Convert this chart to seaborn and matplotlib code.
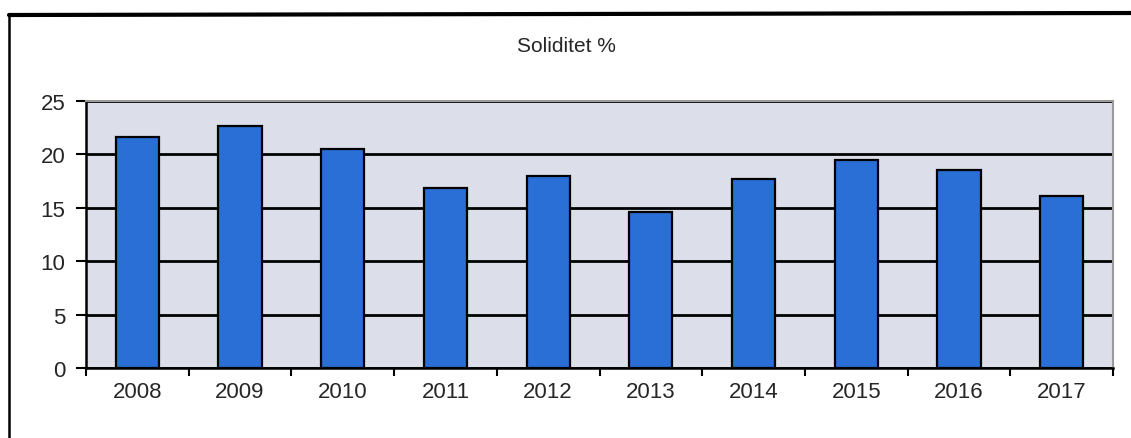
import matplotlib
matplotlib.use('Agg')
import matplotlib.pyplot as plt
import seaborn as sns
import pandas as pd
from matplotlib.lines import Line2D

# Data
years = ['2008', '2009', '2010', '2011', '2012', '2013', '2014', '2015', '2016', '2017']
soliditet = [21.6, 22.7, 20.5, 16.9, 18.0, 14.6, 17.7, 19.5, 18.5, 16.1]
y_ticks = [0, 5, 10, 15, 20, 25]

df = pd.DataFrame({'year': years, 'soliditet': soliditet})

sns.set_style('white')
plt.rcParams['font.family'] = ['Liberation Sans', 'DejaVu Sans']

fig = plt.figure(figsize=(11.31, 4.39), dpi=100)
ax = fig.add_axes([86 / 1131, 1 - 369 / 439, (1113 - 86) / 1131, (369 - 102) / 439])

sns.barplot(data=df, x='year', y='soliditet', color='#2a6fd6', saturation=1,
            edgecolor='black', linewidth=1.6, width=0.42, ax=ax)

ax.set_facecolor('#dcdee9')
ax.set_xlim(-0.5, len(years) - 0.5)
ax.set_ylim(0, 25)
ax.set_yticks(y_ticks)
ax.yaxis.grid(True, color='black', linewidth=2)
ax.set_axisbelow(True)
ax.set_xlabel('')
ax.set_ylabel('')

# category boundary ticks on the x axis
ax.set_xticks(range(len(years)))
ax.set_xticklabels(years)
ax.set_xticks([i - 0.5 for i in range(len(years) + 1)], minor=True)
ax.tick_params(axis='x', which='major', length=0, pad=9, labelsize=16)
ax.tick_params(axis='x', which='minor', length=6, width=1.5, color='black', direction='out')
ax.tick_params(axis='y', length=7, width=1.5, color='black', direction='out', pad=8, labelsize=16)
ax.tick_params(axis='both', bottom=True, left=True, which='both')

for side in ['left', 'bottom']:
    ax.spines[side].set_color('black')
    ax.spines[side].set_linewidth(1.8)
for side in ['top', 'right']:
    ax.spines[side].set_visible(True)
    ax.spines[side].set_color('#9a9a9a')
    ax.spines[side].set_linewidth(1.5)

fig.text(566 / 1131, 1 - 46 / 439, 'Soliditet %', ha='center', va='center', fontsize=15)

# outer frame of the scanned chart
fig.add_artist(Line2D([9 / 1131, 1.0], [1 - 16 / 439, 1 - 14 / 439], color='black', linewidth=3))
fig.add_artist(Line2D([9 / 1131, 9 / 1131], [1 - 16 / 439, 0.0], color='black', linewidth=1.8))

fig.savefig('out.png', dpi=100)
